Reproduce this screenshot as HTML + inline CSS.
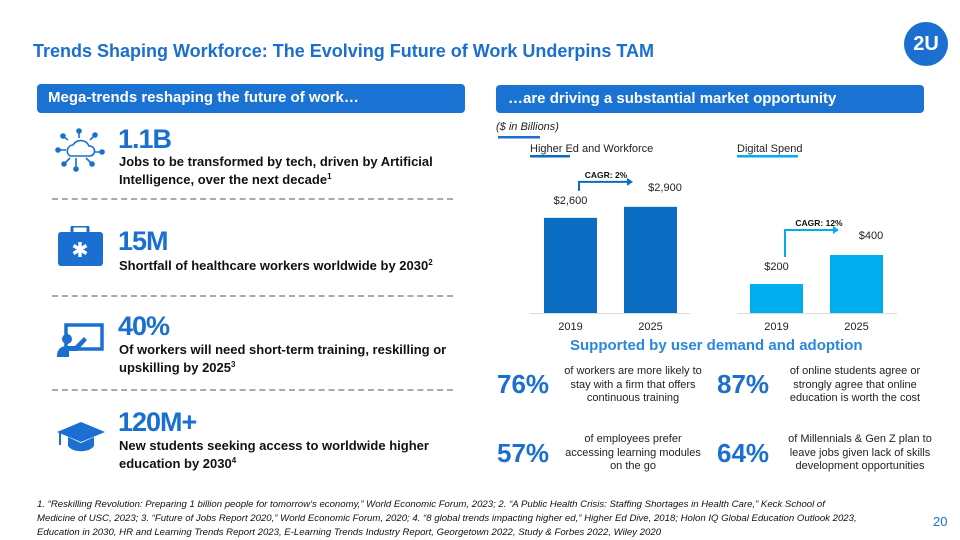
<!DOCTYPE html>
<html><head><meta charset="utf-8"><style>
body{margin:0;width:960px;height:540px;background:#fff;font-family:"Liberation Sans",sans-serif;position:relative;overflow:hidden}
.a{position:absolute;white-space:nowrap}
.blue{color:#1a6fd0}
.ban{position:absolute;background:#1a72d2;border-radius:4px;color:#fff;font-weight:bold;font-size:15px;line-height:28px;padding-left:11px;box-sizing:border-box}
.big{font-weight:bold;color:#1a6fd0;font-size:27px;letter-spacing:-1px}
.desc{font-weight:bold;font-size:13px;color:#111;line-height:18px}
.desc sup{font-size:8px;line-height:0;vertical-align:5px}
.dash{position:absolute;left:52px;width:401px;border-top:2px dashed #aaa;height:0}
.st{font-size:11px;color:#222;text-align:center;line-height:13.5px}
.pc{font-weight:bold;color:#1a6fd0;font-size:26px}
.fn{font-size:9.6px;font-style:italic;color:#111;line-height:14px}
</style></head><body>
<div class="a blue" style="left:33px;top:41px;font-size:18px;font-weight:bold">Trends Shaping Workforce: The Evolving Future of Work Underpins TAM</div>
<div class="a" style="left:904px;top:22px;width:44px;height:44px;border-radius:50%;background:#1a6fd0;color:#fff;font-weight:bold;font-size:20px;text-align:center;line-height:44px">2U</div>

<div class="ban" style="left:37px;top:84px;width:428px;height:29px">Mega-trends reshaping the future of work…</div>
<div class="ban" style="left:496px;top:85px;width:428px;height:28px;padding-left:12px">…are driving a substantial market opportunity</div>

<svg class="a" style="left:54px;top:128px" width="54" height="48" viewBox="0 0 54 48" fill="none" stroke="#1a6fd0" stroke-width="1.6">
<path d="M16 28a6 6 0 0 1 3-11 9 9 0 0 1 16 1 5 5 0 0 1 1 10z"/>
<path d="M25 10V3M14 12l-4-3M36 12l4-4M12 22H5M40 24h7M16 30l-5 5M22 30v9M32 30l5 5"/>
<circle cx="25" cy="3" r="2" fill="#1a6fd0"/><circle cx="9" cy="8" r="2" fill="#1a6fd0"/><circle cx="41" cy="7" r="2" fill="#1a6fd0"/><circle cx="4" cy="22" r="2" fill="#1a6fd0"/><circle cx="48" cy="24" r="2" fill="#1a6fd0"/><circle cx="10" cy="36" r="2" fill="#1a6fd0"/><circle cx="22" cy="41" r="2" fill="#1a6fd0"/><circle cx="38" cy="36" r="2" fill="#1a6fd0"/></svg>
<div class="a big" style="left:118px;top:124px">1.1B</div>
<div class="a desc" style="left:119px;top:153px">Jobs to be transformed by tech, driven by Artificial<br>Intelligence, over the next decade<sup>1</sup></div>
<div class="dash" style="top:198px"></div>

<svg class="a" style="left:58px;top:226px" width="46" height="40" viewBox="0 0 46 40"><rect x="14" y="0" width="16" height="8" rx="2" fill="none" stroke="#1a6fd0" stroke-width="3"/><rect x="0" y="6" width="45" height="34" rx="3" fill="#1a6fd0"/><path d="M22 16v15M15.5 19.5l13 8M28.5 19.5l-13 8" stroke="#fff" stroke-width="3.4"/></svg>
<div class="a big" style="left:118px;top:226px">15M</div>
<div class="a desc" style="left:119px;top:257px">Shortfall of healthcare workers worldwide by 2030<sup>2</sup></div>
<div class="dash" style="top:295px"></div>

<svg class="a" style="left:56px;top:323px" width="50" height="36" viewBox="0 0 50 36"><rect x="10" y="2" width="36" height="24" fill="none" stroke="#1a6fd0" stroke-width="3.5"/><circle cx="11" cy="16" r="5" fill="#1a6fd0"/><path d="M1 34c0-8 4-11 10-11h8l9-9 3 3-10 11H13v6z" fill="#1a6fd0"/></svg>
<div class="a big" style="left:118px;top:311px">40%</div>
<div class="a desc" style="left:119px;top:341px">Of workers will need short-term training, reskilling or<br>upskilling by 2025<sup>3</sup></div>
<div class="dash" style="top:389px"></div>

<svg class="a" style="left:56px;top:422px" width="50" height="32" viewBox="0 0 50 32"><path d="M25 0L49 10 25 20 1 10z" fill="#1a6fd0"/><path d="M12 15v9c5 7 21 7 26 0v-9l-13 6z" fill="#1a6fd0"/><path d="M4 11v12" stroke="#1a6fd0" stroke-width="2"/></svg>
<div class="a big" style="left:118px;top:407px">120M+</div>
<div class="a desc" style="left:119px;top:437px">New students seeking access to worldwide higher<br>education by 2030<sup>4</sup></div>

<svg class="a" id="chart" style="left:0;top:0" width="960" height="340"></svg>

<div class="a blue" style="left:570px;top:337px;font-size:15px;font-weight:bold;color:#2a86e0">Supported by user demand and adoption</div>
<div class="a pc" style="left:497px;top:369px">76%</div>
<div class="a st" style="left:563px;top:365px;width:140px">of workers are more likely to<br>stay with a firm that offers<br>continuous training</div>
<div class="a pc" style="left:717px;top:369px">87%</div>
<div class="a st" style="left:780px;top:365px;width:150px">of online students agree or<br>strongly agree that online<br>education is worth the cost</div>
<div class="a pc" style="left:497px;top:438px">57%</div>
<div class="a st" style="left:563px;top:433px;width:140px">of employees prefer<br>accessing learning modules<br>on the go</div>
<div class="a pc" style="left:717px;top:438px">64%</div>
<div class="a st" style="left:780px;top:433px;width:160px">of Millennials &amp; Gen Z plan to<br>leave jobs given lack of skills<br>development opportunities</div>

<div class="a fn" style="left:37px;top:498px">1. “Reskilling Revolution: Preparing 1 billion people for tomorrow’s economy,” World Economic Forum, 2023; 2. “A Public Health Crisis: Staffing Shortages in Health Care,” Keck School of<br>Medicine of USC, 2023; 3. “Future of Jobs Report 2020,” World Economic Forum, 2020; 4. “8 global trends impacting higher ed,” Higher Ed Dive, 2018; Holon IQ Global Education Outlook 2023,<br>Education in 2030, HR and Learning Trends Report 2023, E-Learning Trends Industry Report, Georgetown 2022, Study &amp; Forbes 2022, Wiley 2020</div>
<div class="a blue" style="left:933px;top:514px;font-size:13px">20</div>

<script>
const years = ["2019", "2025"];
const higherEdValues = [2600, 2900];
const digitalValues = [200, 400];
const higherEdLabels = ["$2,600", "$2,900"];
const digitalLabels = ["$200", "$400"];
const cagrLabels = ["CAGR: 2%", "CAGR: 12%"];

const NS = "http://www.w3.org/2000/svg";
const svg = document.getElementById("chart");
function mk(tag, attrs, txt){const e=document.createElementNS(NS,tag);for(const k in attrs)e.setAttribute(k,attrs[k]);if(txt!==undefined)e.textContent=txt;svg.appendChild(e);return e;}
const base = 313;
function yHE(v){return base - v*0.0366;}
function yDS(v){return base - v*0.145;}

let t;
t=mk("text",{x:496,y:130,"font-size":11,"font-style":"italic",fill:"#222"},"($ in Billions)");

t=mk("rect",{x:498,y:136,width:42,height:2.5,fill:"#1a6fd0"});


const panels=[
 {title:"Higher Ed and Workforce",tx:530,ul:40,color:"#0a6dc2",vals:higherEdValues,labels:higherEdLabels,y:yHE,x0:544,axis:[530,690],name:"higher-ed"},
 {title:"Digital Spend",tx:737,ul:61,color:"#00aeef",vals:digitalValues,labels:digitalLabels,y:yDS,x0:750,axis:[737,897],name:"digital"}
];
panels.forEach((p,pi)=>{
 t=mk("text",{x:p.tx,y:152,"font-size":11,fill:"#222"},p.title);
 
 t=mk("rect",{x:p.tx,y:155,width:p.ul,height:2.5,fill:p.color});
 
 t=mk("line",{x1:p.axis[0],x2:p.axis[1],y1:base+0.5,y2:base+0.5,stroke:"#ddd","stroke-width":1});
 
 const tops=[];
 p.vals.forEach((v,i)=>{
  const x=p.x0+i*80, y=p.y(v); tops.push(y);
  t=mk("rect",{x:x,y:y,width:53,height:base-y,fill:p.color});
  
  t=mk("text",{x:x+26.5,y:330,"font-size":11,fill:"#222","text-anchor":"middle"},years[i]);
  
 });
 t=mk("text",{x:p.x0+26.5,y:tops[0]-14,"font-size":11,fill:"#222","text-anchor":"middle"},p.labels[0]);
 
 t=mk("text",{x:p.x0+80+41,y:tops[1]-25+9,"font-size":11,fill:"#222","text-anchor":"middle"},p.labels[1]);
 
 const ax=p.x0+35, ayTop=tops[1]-25, ayBot=tops[0]-27;
 t=mk("path",{d:`M${ax} ${ayBot}V${ayTop}H${p.x0+80+5}`,stroke:p.color,"stroke-width":2,fill:"none"});
 
 t=mk("path",{d:`M${p.x0+80+3} ${ayTop-4}l6 4-6 4z`,fill:p.color});
 
 t=mk("text",{x:ax+(pi?34:27),y:ayTop-4,"font-size":8.5,"font-weight":"bold",fill:"#111","text-anchor":"middle"},cagrLabels[pi]);
 
});
</script>
</body></html>
